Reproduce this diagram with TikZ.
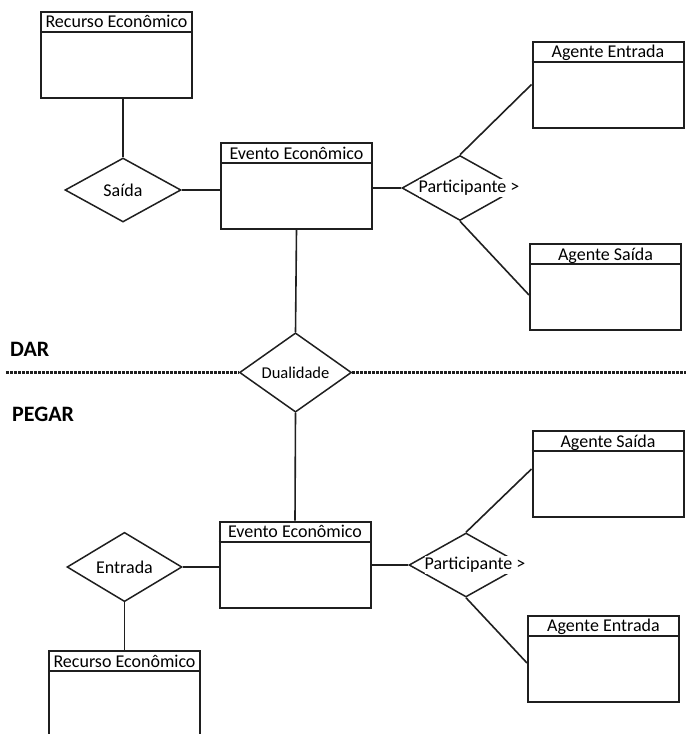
\documentclass[tikz,border=0pt]{standalone}
\usepackage{fontspec}
\setmainfont{Carlito}
\usepackage{tikz}
\usetikzlibrary{shapes.geometric}
\usetikzlibrary{calc}
\colorlet{ink}{black!88}
\tikzstyle{entity}=[draw=ink,line width=2pt,minimum width=151pt,minimum height=86pt,inner sep=0pt]
\tikzstyle{sepline}=[draw=ink,line width=2pt]
\tikzstyle{head}=[font=\fontsize{18}{20}\selectfont,anchor=base,inner sep=0pt]
\tikzstyle{rel}=[diamond,draw=ink,line width=1.5pt,minimum width=116pt,minimum height=64pt,inner sep=0pt,font=\fontsize{18}{20}\selectfont]
\tikzstyle{small}=[font=\fontsize{16.5}{18}\selectfont]
\tikzstyle{over}=[fill=white,inner xsep=0pt,inner ysep=1pt,font=\fontsize{18}{20}\selectfont]
\tikzstyle{link}=[line width=1.6pt,draw=ink]
\tikzstyle{cut}=[line width=2.2pt,draw=ink,dash pattern=on 3pt off 1pt]
\tikzstyle{side}=[font=\fontsize{22}{24}\selectfont\bfseries,anchor=base west,inner sep=0pt]
\newcommand\entidade[3]{%
  \node[entity] (#1) at (#2) {};
  \node[head] (#1-t) at ($(#1.north)+(0,17)$) {#3};
  \draw[sepline] ($(#1.north west)+(0,21)$) -- ($(#1.north east)+(0,21)$);
}

\begin{document}
\begin{tikzpicture}[x=1pt,y=-1pt]
	\useasboundingbox (0,0) rectangle (686,734);
	\clip (0,0) rectangle (686,734);
	% DAR
	\entidade{re1}{116.5,54.5}{Recurso Econômico}
	\entidade{ev1}{296.5,186}{Evento Econômico}
	\entidade{ae1}{608,84.5}{Agente Entrada}
	\entidade{as1}{605.5,287}{Agente Saída}
	\node[rel] (sa) at (123,190) {Saída};
	\node[rel,minimum height=65pt,label={[over,xshift=11pt]center:Participante >\kern4pt}] (pa1) at (460,188) {};
	\draw[link] (sa.north) -- (sa.north |- re1.south);
	\draw[link] (sa.east) -- (sa.east -| ev1.west);
	\draw[link] (ev1.east |- pa1.west) -- (pa1.west);
	\draw[link] (pa1.north) -- (ae1.west);
	\draw[link] (pa1.south) -- ([yshift=-8pt]as1.west);
	% divisa
	\node[side] (dar) at (10,356) {DAR};
	\node[side] (pegar) at (12,421) {PEGAR};
	\node[rel,small,minimum width=112pt,minimum height=61pt] (du) at (295.5,372.5) {Dualidade};
	\coordinate (cl) at (6,372.5);
	\coordinate (cr) at (686,372.5);
	\draw[cut] (cl) -- (du.west);
	\draw[cut] (du.east) -- (cr);
	\draw[link] (ev1.south) -- (du.north);
	% PEGAR
	\entidade{ev2}{295,564.5}{Evento Econômico}
	\entidade{re2}{124.5,694}{Recurso Econômico}
	\entidade{as2}{608,474}{Agente Saída}
	\entidade{ae2}{603.5,658.5}{Agente Entrada}
	\node[rel,minimum width=115pt] (en) at (124.5,567) {Entrada};
	\node[rel,minimum width=114pt,label={[over,xshift=11pt]center:Participante >\kern4pt}] (pa2) at (466,565) {};
	\draw[link] (du.south) -- (ev2.north);
	\draw[link] (en.east) -- (en.east -| ev2.west);
	\draw[link] (en.south) -- (en.south |- re2.north);
	\draw[link] (ev2.east |- pa2.west) -- (pa2.west);
	\draw[link] (pa2.north) -- ([yshift=5pt]as2.west);
	\draw[link] (pa2.south) -- ([yshift=-4.5pt]ae2.west);
\end{tikzpicture}
\end{document}
